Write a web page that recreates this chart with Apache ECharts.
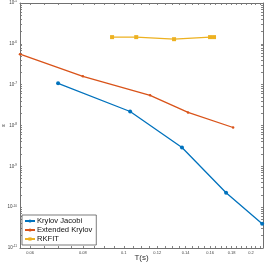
<!DOCTYPE html>
<html><head><meta charset="utf-8">
<script src="https://cdn.jsdelivr.net/npm/echarts@6/dist/echarts.min.js"></script>
<style>html,body{margin:0;padding:0;background:#fff}#c{width:266px;height:264px}</style>
</head><body><div id="c"></div>
<script>
var seriesNames = ['Krylov Jacobi', 'Extended Krylov', 'RKFIT'];
var krylovT = [0.0699, 0.1035, 0.1373, 0.1746, 0.2125];
var krylovErr = [1.08e-7, 2.2e-8, 2.88e-9, 2.25e-10, 3.9e-11];
var extT = [0.0568, 0.080, 0.1154, 0.1419, 0.1814];
var extErr = [5.57e-7, 1.6e-7, 5.47e-8, 2.09e-8, 8.93e-9];
var rkT = [0.0938, 0.107, 0.1315, 0.160, 0.1635];
var rkErr = [1.46e-6, 1.46e-6, 1.3e-6, 1.46e-6, 1.46e-6];
var xTickLabels = [0.06, 0.08, 0.1, 0.12, 0.14, 0.16, 0.18, 0.2];
var yTickLabels = [1e-11, 1e-10, 1e-9, 1e-8, 1e-7, 1e-6, 1e-5];
var xMin = 0.0568, xMax = 0.2135, yMin = 1e-11, yMax = 1e-5;

function zip(a, b) { return a.map(function (v, i) { return [v, b[i]]; }); }
var xMinor = [];
for (var k = 12; k <= 42; k++) { xMinor.push(+(k * 0.005).toFixed(3)); }
var yMinor = [];
for (var e = -11; e <= -5; e++) { for (var m = 1; m <= 9; m++) { var v = m * Math.pow(10, e); if (v <= yMax * 1.0001) yMinor.push(v); } }

var axisCol = '#707070';
function yFmt(v) {
  var ex = Math.round(Math.log10(v));
  return '{b|10}{s|' + ex + '}';
}
function tickCfg(vals) {
  return {show: true, inside: true, length: 2, customValues: vals, lineStyle: {color: '#777', width: 0.9}};
}
var chart = echarts.init(document.getElementById('c'), null, {renderer: 'canvas'});
chart.setOption({
  animation: false,
  backgroundColor: '#fff',
  grid: {left: 20, right: 3, top: 3, bottom: 16, containLabel: false, outerBoundsMode: 'none'},
  xAxis: [{
    type: 'log', min: xMin, max: xMax, logBase: 10,
    name: 'T(s)', nameLocation: 'middle', nameGap: 6, nameMoveOverlap: false,
    nameTextStyle: {fontSize: 8, color: '#333', fontFamily: 'Liberation Sans'},
    axisLine: {show: true, lineStyle: {color: axisCol, width: 1}},
    axisTick: tickCfg(xMinor),
    axisLabel: {show: true, customValues: xTickLabels, fontSize: 4, color: '#444', margin: 3,
      formatter: function (v) { return String(+v.toFixed(2)); }},
    splitLine: {show: false}, minorTick: {show: false}
  }, {
    type: 'log', min: xMin, max: xMax, position: 'top',
    axisLine: {show: true, lineStyle: {color: axisCol, width: 1}},
    axisTick: tickCfg(xMinor),
    axisLabel: {show: false}, splitLine: {show: false}
  }],
  yAxis: [{
    type: 'log', min: yMin, max: yMax, logBase: 10,
    name: 'ε', nameLocation: 'middle', nameGap: 14, nameRotate: 90, nameMoveOverlap: false,
    nameTextStyle: {fontSize: 6, color: '#333'},
    axisLine: {show: true, lineStyle: {color: axisCol, width: 1}},
    axisTick: tickCfg(yMinor),
    axisLabel: {show: true, customValues: yTickLabels, formatter: yFmt, margin: 3, color: '#444',
      rich: {b: {fontSize: 4.5, color: '#444'}, s: {fontSize: 3.2, color: '#444', verticalAlign: 'bottom', padding: [0, 0, 3, 0]}}},
    splitLine: {show: false}
  }, {
    type: 'log', min: yMin, max: yMax, position: 'right',
    axisLine: {show: true, lineStyle: {color: axisCol, width: 1}},
    axisTick: tickCfg(yMinor),
    axisLabel: {show: false}, splitLine: {show: false}
  }],
  legend: {
    show: true, orient: 'vertical', left: 22, top: 215,
    itemWidth: 10, itemHeight: 4, itemGap: 1,
    padding: [2, 4, 2, 2], borderColor: '#444', borderWidth: 0.7, backgroundColor: '#fff',
    textStyle: {fontSize: 7.6, color: '#111', fontFamily: 'Liberation Sans', padding: [0, 0, 0, -3]},
    data: seriesNames
  },
  series: [{
    name: seriesNames[0], type: 'line', data: zip(krylovT, krylovErr),
    color: '#0072BD', lineStyle: {width: 1.3}, symbol: 'circle', symbolSize: 4
  }, {
    name: seriesNames[1], type: 'line', data: zip(extT, extErr),
    color: '#D95319', lineStyle: {width: 1.3}, symbol: 'circle', symbolSize: 2.5
  }, {
    name: seriesNames[2], type: 'line', data: zip(rkT, rkErr),
    color: '#EDB120', lineStyle: {width: 1.3}, symbol: 'rect', symbolSize: 4
  }]
});
</script></body></html>
